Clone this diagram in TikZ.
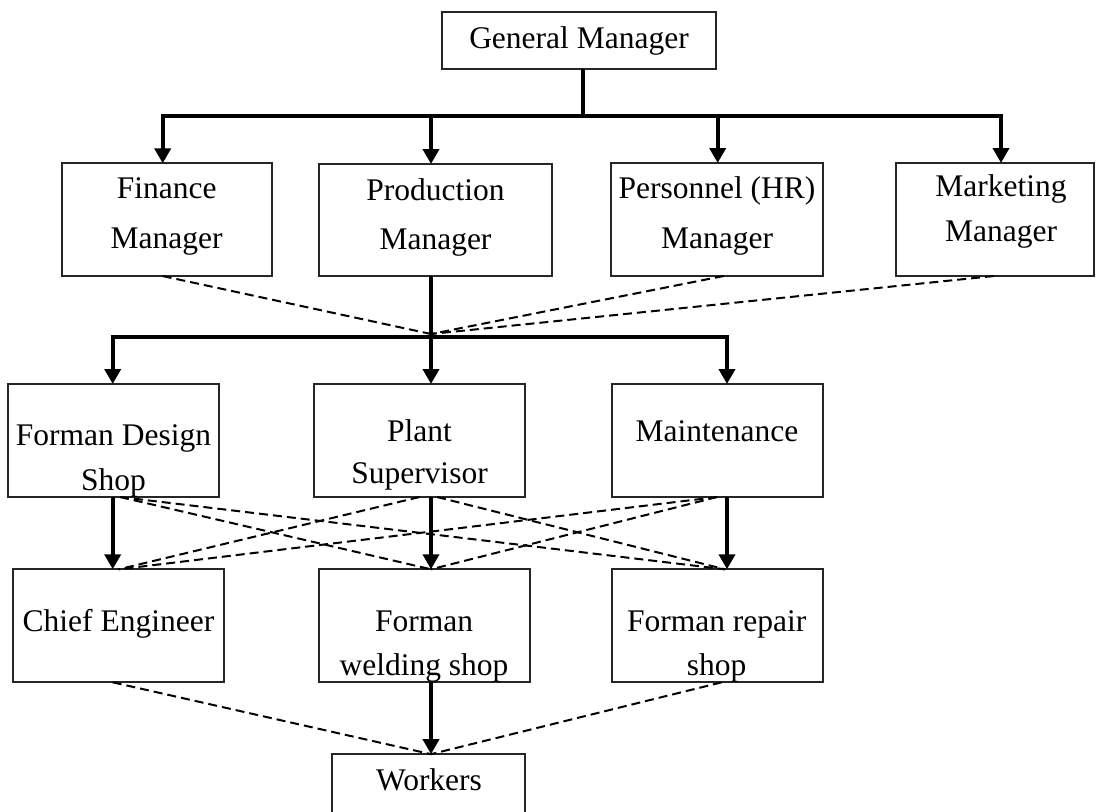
\documentclass[tikz,border=0pt]{standalone}
\usepackage{fontspec}
\setmainfont{Liberation Serif}
\usetikzlibrary{arrows.meta}
\begin{document}
\begin{tikzpicture}[x=1pt,y=-1pt,
  box/.style={draw=black!85, line width=1.8pt, inner sep=0pt, outer sep=0pt},
  lbl/.style={anchor=base, inner sep=0pt, outer sep=0pt, font=\fontsize{31.5}{38}\selectfont},
  tline/.style={line width=4pt},
  tarrow/.style={line width=4pt, -{Triangle[width=16pt,length=15pt]}},
  tbar/.style={line width=4pt, {Triangle[width=16pt,length=15pt]}-{Triangle[width=16pt,length=15pt]}},
  dline/.style={line width=2pt, dash pattern=on 9pt off 5pt}]
\path[use as bounding box] (0,0) rectangle (1097,811);
\clip (0,0) rectangle (1097,811);

% ---- boxes ----
\node[box, minimum width=274pt, minimum height=57pt] (gm) at (579,40.5) {};
\node[lbl] (gm-t) at (579,48.3) {General Manager};

\node[box, minimum width=210pt, minimum height=112.7pt] (fin) at (166.7,219.7) {};
\node[lbl] (fin-t1) at (166.7,198) {Finance};
\node[lbl] (fin-t2) at (166.7,248) {Manager};

\node[box, minimum width=233pt, minimum height=112pt] (prod) at (435.5,220) {};
\node[lbl] (prod-t1) at (435.5,200) {Production};
\node[lbl] (prod-t2) at (435.5,249) {Manager};

\node[box, minimum width=212pt, minimum height=113pt] (hr) at (717,219.5) {};
\node[lbl] (hr-t1) at (717,198) {Personnel (HR)};
\node[lbl] (hr-t2) at (717,248) {Manager};

\node[box, minimum width=198pt, minimum height=113pt] (mkt) at (995,219.5) {};
\node[lbl] (mkt-t1) at (1001,196.7) {Marketing};
\node[lbl] (mkt-t2) at (1001,241.7) {Manager};

\node[box, minimum width=210.7pt, minimum height=113pt] (fds) at (113.7,440.5) {};
\node[lbl] (fds-t1) at (113.5,445) {Forman Design};
\node[lbl] (fds-t2) at (113.5,490) {Shop};

\node[box, minimum width=211pt, minimum height=113pt] (ps) at (419.5,440.5) {};
\node[lbl] (ps-t1) at (419.5,441.7) {Plant};
\node[lbl] (ps-t2) at (419.5,483) {Supervisor};

\node[box, minimum width=211pt, minimum height=113pt] (mnt) at (717.2,440.5) {};
\node[lbl] (mnt-t) at (717,441) {Maintenance};

\node[box, minimum width=210.7pt, minimum height=113pt] (ce) at (118.7,625.8) {};
\node[lbl] (ce-t) at (118.5,631.7) {Chief Engineer};

\node[box, minimum width=211pt, minimum height=113pt] (fws) at (424.5,625.8) {};
\node[lbl] (fws-t1) at (424,631.7) {Forman};
\node[lbl] (fws-t2) at (424,675) {welding shop};

\node[box, minimum width=211pt, minimum height=113pt] (frs) at (717.2,625.8) {};
\node[lbl] (frs-t1) at (716.7,631.7) {Forman repair};
\node[lbl] (frs-t2) at (716.7,675) {shop};

\node[box, minimum width=193pt, minimum height=65.7pt] (wk) at (428.5,787) {};
\node[lbl] (wk-t) at (429,790) {Workers};

% ---- junction points ----
\coordinate (j1) at (583,116);
\coordinate (a1) at (162.7,116);
\coordinate (a2) at (431,116);
\coordinate (a3) at (717.7,116);
\coordinate (a4) at (1001,116);
\coordinate (j2) at (431,337.3);
\coordinate (b1) at (112.7,337.3);
\coordinate (b3) at (727,337.3);
\coordinate (conv) at (431,334);

% ---- dashed advisory lines ----
\draw[dline] (fin.south -| a1) -- (conv);
\draw[dline] ([xshift=6.7pt]hr.south) -- (conv);
\draw[dline] ([xshift=-1pt]mkt.south) -- (conv);

\draw[dline] ([xshift=6.3pt]fds.south) -- (fws.north -| j2);
\draw[dline] ([xshift=6.3pt]fds.south) -- ([xshift=7.8pt]frs.north);
\draw[dline] (ps.south) -- (ce.north);
\draw[dline] ([xshift=17.5pt]ps.south) -- ([xshift=7.8pt]frs.north);
\draw[dline] (mnt.south) -- (ce.north);
\draw[dline] (mnt.south) -- (fws.north -| j2);

\draw[dline] (ce.south -| b1) -- (wk.north -| j2);
\draw[dline] ([xshift=4.5pt]frs.south) -- (wk.north -| j2);

% ---- line of command ----
\draw[tline] (gm.south -| j1) -- (j1);
\draw[tbar] (a1 |- fin.north) -- (a1) -- (a4) -- (a4 |- mkt.north);
\draw[tarrow] (a2) -- (a2 |- prod.north);
\draw[tarrow] (a3) -- (a3 |- hr.north);

\draw[tline] (prod.south -| j2) -- (j2);
\draw[tbar] (b1 |- fds.north) -- (b1) -- (b3) -- (b3 |- mnt.north);
\draw[tarrow] (j2) -- (j2 |- ps.north);

\draw[tarrow] (fds.south -| b1) -- (b1 |- ce.north);
\draw[tarrow] (ps.south -| j2) -- (j2 |- fws.north);
\draw[tarrow] (mnt.south -| b3) -- (b3 |- frs.north);
\draw[tarrow] (fws.south -| j2) -- (j2 |- wk.north);
\end{tikzpicture}
\end{document}
